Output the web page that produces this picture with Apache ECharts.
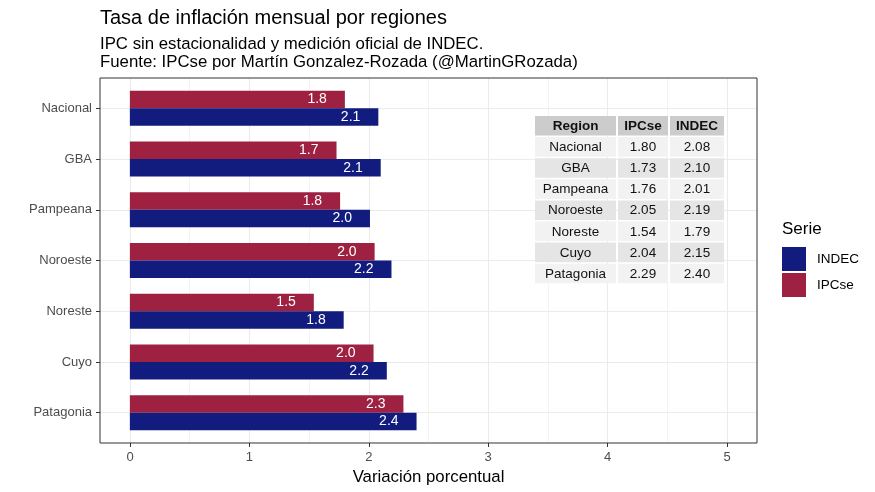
<!DOCTYPE html>
<html><head><meta charset="utf-8">
<script src="https://cdn.jsdelivr.net/npm/echarts@6/dist/echarts.min.js"></script>
<style>html,body{margin:0;padding:0;background:#fff}#c{width:875px;height:492px}</style>
</head><body><div id="c"></div>
<script>
// ---- data ----
const regions = ['Nacional', 'GBA', 'Pampeana', 'Noroeste', 'Noreste', 'Cuyo', 'Patagonia'];
const ipcse = [1.80, 1.73, 1.76, 2.049, 1.54, 2.04, 2.29];
const indec = [2.08, 2.10, 2.01, 2.19, 1.79, 2.151, 2.40];
const tableHeader = ['Region', 'IPCse', 'INDEC'];
const xMin = 0, xMax = 5, xStep = 1;

// ---- style ----
const FONT = 'Liberation Sans, Arial, sans-serif';
const BLUE = '#121b7e';
const RED = '#9e2142';
const GRID = '#ebebeb';

// ---- table graphic ----
const colX = [535, 618, 670];
const colW = [81, 50, 54];
const rowY0 = 116, rowPitch = 21.1, rowH = 19.6;
const tableEls = [];
const rows = [tableHeader].concat(regions.map((r, i) => [r, ipcse[i].toFixed(2), indec[i].toFixed(2)]));
rows.forEach((row, ri) => {
  const fill = ri === 0 ? '#cccccc' : (ri % 2 === 1 ? '#f2f2f2' : '#e5e5e5');
  row.forEach((cell, ci) => {
    const y = rowY0 + ri * rowPitch;
    tableEls.push({
      type: 'rect', z: 10,
      shape: { x: colX[ci], y: y, width: colW[ci], height: rowH },
      style: { fill: fill }
    });
    tableEls.push({
      type: 'text', z: 11,
      x: colX[ci] + colW[ci] / 2, y: y + rowH / 2 + 0.5,
      style: {
        text: cell, fill: '#111', fontSize: 13.5, fontFamily: FONT,
        fontWeight: ri === 0 ? 'bold' : 'normal',
        align: 'center', verticalAlign: 'middle'
      }
    });
  });
});

const labelOpt = {
  show: true, position: 'insideRight', distance: 18, color: '#fff',
  fontSize: 14, fontFamily: FONT, formatter: p => p.value.toFixed(1)
};

const chart = echarts.init(document.getElementById('c'));
chart.setOption({
  animation: false,
  backgroundColor: '#fff',
  textStyle: { fontFamily: FONT },
  title: [
    { text: 'Tasa de inflación mensual por regiones', left: 100, top: 8, padding: 0,
      textStyle: { fontSize: 20, fontWeight: 'normal', color: '#000', fontFamily: FONT } },
    { text: 'IPC sin estacionalidad y medición oficial de INDEC.', left: 100, top: 36, padding: 0,
      textStyle: { fontSize: 16.8, fontWeight: 'normal', color: '#000', fontFamily: FONT } },
    { text: 'Fuente: IPCse por Martín Gonzalez-Rozada (@MartinGRozada)', left: 100, top: 53.5, padding: 0,
      textStyle: { fontSize: 16.8, fontWeight: 'normal', color: '#000', fontFamily: FONT } },
    { text: 'Serie', left: 782, top: 221, padding: 0,
      textStyle: { fontSize: 17, fontWeight: 'normal', color: '#000', fontFamily: FONT } }
  ],
  legend: {
    data: ['INDEC', 'IPCse'], orient: 'vertical', left: 782, top: 247, padding: 0,
    itemWidth: 24, itemHeight: 24, itemGap: 2, icon: 'rect',
    textStyle: { fontSize: 13.5, color: '#000', fontFamily: FONT, padding: [0, 0, 0, 6] }
  },
  grid: [
    { left: 100, right: 118, top: 83, bottom: 54 },          // data
    { left: 130, right: 148, top: 78, bottom: 49 },          // x axis & vertical grid
    { left: 100, right: 118, top: 108.4, bottom: 79.4 },     // horizontal grid & y ticks
    { left: 100, right: 118, top: 78, bottom: 49, show: true, borderColor: '#333333', borderWidth: 1, backgroundColor: 'transparent', z: 5 }
  ],
  xAxis: [
    { gridIndex: 0, type: 'value', min: xMin - 0.25, max: xMax + 0.25, show: false },
    { gridIndex: 1, type: 'value', min: xMin, max: xMax, interval: xStep,
      axisLine: { show: false },
      axisTick: { show: true, length: 4, lineStyle: { color: '#333', width: 1 } },
      axisLabel: { color: '#4d4d4d', fontSize: 13, margin: 8, fontFamily: FONT },
      splitLine: { show: true, lineStyle: { color: GRID, width: 1.1 } },
      minorTick: { show: false, splitNumber: 2 },
      minorSplitLine: { show: true, lineStyle: { color: '#f0f0f0', width: 0.8 } },
      name: 'Variación porcentual', nameLocation: 'middle', nameGap: 23,
      nameTextStyle: { fontSize: 16.8, color: '#000', fontFamily: FONT } },
    { gridIndex: 2, type: 'value', min: 0, max: 1, show: false },
    { gridIndex: 3, type: 'value', min: 0, max: 1, show: false }
  ],
  yAxis: [
    { gridIndex: 0, type: 'category', data: regions, inverse: true,
      axisLine: { show: false }, axisTick: { show: false },
      axisLabel: { color: '#4d4d4d', fontSize: 13, margin: 8, fontFamily: FONT },
      splitLine: { show: false } },
    { gridIndex: 1, type: 'value', min: 0, max: 1, show: false },
    { gridIndex: 2, type: 'value', min: 0, max: regions.length - 1, interval: 1,
      axisLine: { show: false },
      axisTick: { show: true, length: 4, lineStyle: { color: '#333', width: 1 } },
      axisLabel: { show: false },
      splitLine: { show: true, lineStyle: { color: GRID, width: 1.1 } } },
    { gridIndex: 3, type: 'value', min: 0, max: 1, show: false }
  ],
  series: [
    { name: 'IPCse', type: 'bar', xAxisIndex: 0, yAxisIndex: 0, data: ipcse,
      barWidth: 17.5, barGap: '0%', itemStyle: { color: RED }, label: labelOpt },
    { name: 'INDEC', type: 'bar', xAxisIndex: 0, yAxisIndex: 0, data: indec,
      barWidth: 17.5, barGap: '0%', itemStyle: { color: BLUE }, label: labelOpt }
  ],
  graphic: tableEls
});
</script></body></html>
